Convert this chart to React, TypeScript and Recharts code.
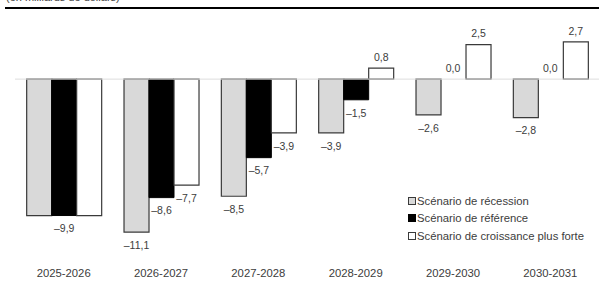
import React from 'react';
import { BarChart, Bar, XAxis, YAxis, ReferenceLine, ReferenceDot, LabelList } from 'recharts';

const categories = ['2025-2026', '2026-2027', '2027-2028', '2028-2029', '2029-2030', '2030-2031'];
const recession = [-9.9, -11.1, -8.5, -3.9, -2.6, -2.8];
const reference = [-9.9, -8.6, -5.7, -1.5, 0.0, 0.0];
const strongGrowth = [-9.9, -7.7, -3.9, 0.8, 2.5, 2.7];
// first group: the three scenarios coincide, only one value is printed
const recessionHiddenLabels = [0];
const growthHiddenLabels = [0];

const seriesNames = {
    recession: 'Scénario de récession',
    reference: 'Scénario de référence',
    growth: 'Scénario de croissance plus forte',
};

const FONT = '"Liberation Sans", Arial, sans-serif';
const TEXT = '#3c3c3c';
const EDGE = '#3a3a3a';

const data = categories.map((name, i) => ({
    name,
    recession: recession[i],
    reference: reference[i],
    growth: strongGrowth[i],
}));

const formatValue = (v: number) => {
    const s = Math.abs(v).toFixed(1).replace('.', ',');
    return v < 0 ? '\u2013' + s : s;
};

const valueText = (x: number, y: number, v: number) => (
    <text x={x} y={y} textAnchor="middle" dominantBaseline="middle"
        fontSize={10.5} fill={TEXT} fontFamily={FONT}>
        {formatValue(v)}
    </text>
);

const makeLabel = (hidden: number[]) => (props: any) => {
    const { x, y, width, height, value, index } = props;
    if (value == null || hidden.includes(index)) return null;
    const top = Math.min(y, y + height);
    const bottom = Math.max(y, y + height);
    const ty = value >= 0 ? top - 10 : bottom + 14;
    return valueText(x + width / 2, ty, value);
};

const legendItems = [
    { label: seriesNames.recession, fill: '#d9d9d9', stroke: EDGE },
    { label: seriesNames.reference, fill: '#000000', stroke: '#000000' },
    { label: seriesNames.growth, fill: '#ffffff', stroke: EDGE },
];

const LegendBox = () => (
    <div style={{ position: 'absolute', left: 408, top: 192, fontFamily: FONT, fontSize: 11.3, color: TEXT }}>
        {legendItems.map(item => (
            <div key={item.label} style={{ display: 'flex', alignItems: 'center', height: 17.5 }}>
                <span style={{
                    display: 'inline-block', width: 6, height: 6, background: item.fill,
                    border: `1px solid ${item.stroke}`, marginRight: 1,
                }} />
                <span>{item.label}</span>
            </div>
        ))}
    </div>
);

const App: React.FC = () => {
    // zero-height bars get no label from LabelList, so their value is drawn at the category centre
    const zeroRefs = data.filter(d => d.reference === 0);
    return (
        <div style={{ position: 'absolute', left: 0, top: 0, width: 599, height: 289, overflow: 'hidden', background: '#fff', fontFamily: FONT }}>
            <div style={{ position: 'absolute', left: 6, top: -9, fontSize: 11, color: TEXT, whiteSpace: 'nowrap' }}>
                (en milliards de dollars)
            </div>
            <div style={{ position: 'absolute', left: 5, top: 7, width: 594, height: 2, background: '#000' }} />
            <BarChart
                width={599}
                height={289}
                data={data}
                margin={{ top: 24, right: 0, left: 15, bottom: 0 }}
                barCategoryGap="12%"
                barGap={0}
            >
                <XAxis
                    dataKey="name"
                    axisLine={false}
                    tickLine={false}
                    tickSize={0}
                    tickMargin={8}
                    height={28}
                    interval={0}
                    tick={{ fontSize: 11.3, fill: TEXT, fontFamily: FONT }}
                />
                <YAxis hide domain={[-13.2, 4]} />
                <ReferenceLine y={0} stroke="#dddddd" strokeWidth={1} />
                <Bar dataKey="recession" name={seriesNames.recession} fill="#d9d9d9" stroke={EDGE} strokeWidth={1.2} isAnimationActive={false}>
                    <LabelList dataKey="recession" content={makeLabel(recessionHiddenLabels)} />
                </Bar>
                <Bar dataKey="reference" name={seriesNames.reference} fill="#000000" stroke="#000000" strokeWidth={1} isAnimationActive={false}>
                    <LabelList dataKey="reference" content={makeLabel([])} />
                </Bar>
                <Bar dataKey="growth" name={seriesNames.growth} fill="#ffffff" stroke={EDGE} strokeWidth={1.2} isAnimationActive={false}>
                    <LabelList dataKey="growth" content={makeLabel(growthHiddenLabels)} />
                </Bar>
                {zeroRefs.map(d => (
                    <ReferenceDot
                        key={d.name}
                        x={d.name}
                        y={0}
                        r={0}
                        fill="none"
                        stroke="none"
                        label={(p: any) => valueText(p.viewBox.x + (p.viewBox.width || 0) / 2, p.viewBox.y - 10, d.reference)}
                    />
                ))}
            </BarChart>
            <LegendBox />
        </div>
    );
};

export default App;
